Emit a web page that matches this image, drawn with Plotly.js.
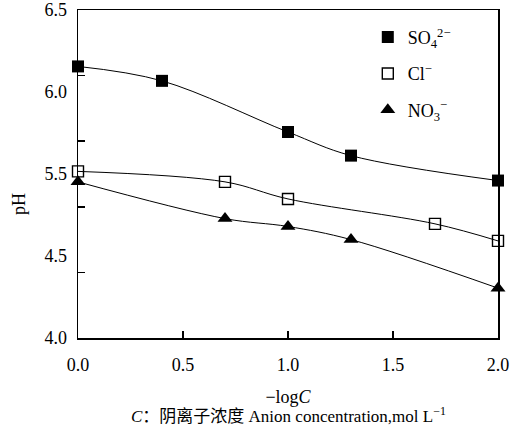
<!DOCTYPE html>
<html>
<head>
<meta charset="utf-8">
<script src="https://cdn.plot.ly/plotly-3.0.1.min.js"></script>
<style>
  html, body { margin: 0; padding: 0; background: #ffffff; }
  #chart { width: 521px; height: 436px; }
</style>
</head>
<body>
<div id="chart"></div>
<script>
// -logC values and measured pH for each anion
const xSO4 = [0, 0.4, 1.0, 1.3, 2.0];
const pHSO4 = [6.07, 5.96, 5.57, 5.39, 5.20];
const xCl = [0, 0.7, 1.0, 1.7, 2.0];
const pHCl = [5.27, 5.19, 5.06, 4.87, 4.74];
const xNO3 = [0, 0.7, 1.0, 1.3, 2.0];
const pHNO3 = [5.19, 4.91, 4.85, 4.75, 4.38];

// printed pH labels on the left edge (evenly spaced)
const yLabelText = ['4.0', '4.5', '5.5', '6.0', '6.5'];
const yLabelPos = yLabelText.map((_, i) => i);
const xTickVals = [0, 0.5, 1.0, 1.5, 2.0];
const xTickText = ['0.0', '0.5', '1.0', '1.5', '2.0'];

const serif = '"Liberation Serif", "Times New Roman", serif';
const serifCJK = '"Liberation Serif", "Noto Sans CJK SC", serif';

const series = [
  { name: 'SO<sub>4</sub><sup>2\u2212</sup>', x: xSO4, y: pHSO4,
    marker: { symbol: 'square', size: 12, color: '#000' } },
  { name: 'Cl<sup>\u2212</sup>', x: xCl, y: pHCl,
    marker: { symbol: 'square-open', size: 11, color: '#000', line: { width: 1.4, color: '#000' } } },
  { name: 'NO<sub>3</sub><sup>\u2212</sup>', x: xNO3, y: pHNO3,
    marker: { symbol: 'triangle-up', size: 13, color: '#000' } }
];

const traces = [];
series.forEach((s, i) => {
  // smoothed connecting curve
  traces.push({
    x: s.x, y: s.y, type: 'scatter', mode: 'lines',
    line: { shape: 'spline', smoothing: 1, color: '#000', width: 1 },
    showlegend: false, hoverinfo: 'skip', cliponaxis: false
  });
  // measured points
  traces.push({
    x: s.x, y: s.y, type: 'scatter', mode: 'markers', name: s.name,
    marker: s.marker, legendgroup: 'g' + i, cliponaxis: false
  });
});

// invisible trace that carries the printed label axis
traces.push({
  x: [null], y: [null], yaxis: 'y2', type: 'scatter', mode: 'markers',
  showlegend: false, hoverinfo: 'skip'
});

const layout = {
  width: 521, height: 436,
  margin: { l: 78, r: 23, t: 10, b: 98 },
  paper_bgcolor: '#ffffff', plot_bgcolor: '#ffffff',
  font: { family: serif, size: 18, color: '#000' },
  showlegend: true,
  legend: {
    x: 0.69, y: 0.973, xanchor: 'left', yanchor: 'top',
    bgcolor: 'rgba(0,0,0,0)', borderwidth: 0,
    font: { family: serif, size: 18, color: '#000' },
    traceorder: 'grouped', tracegroupgap: 10
  },
  xaxis: {
    range: [0, 2], tickvals: xTickVals, ticktext: xTickText,
    ticks: 'inside', ticklen: 7, tickwidth: 1.5, tickcolor: '#000',
    ticklabelstandoff: 10,
    showline: true, linecolor: '#000', linewidth: 1.5, mirror: true,
    showgrid: false, zeroline: false,
    tickfont: { family: serif, size: 18, color: '#000' },
    title: { text: '\u2212log<i>C</i>', font: { family: serif, size: 18, color: '#000' }, standoff: 16 }
  },
  yaxis: {
    range: [4.0, 6.5], dtick: 0.5, tick0: 4.0,
    ticks: 'inside', ticklen: 7, tickwidth: 1.5, tickcolor: '#000',
    showticklabels: false,
    showline: true, linecolor: '#000', linewidth: 1.5, mirror: true,
    showgrid: false, zeroline: false
  },
  yaxis2: {
    overlaying: 'y', side: 'left', range: [0, 4],
    tickvals: yLabelPos, ticktext: yLabelText,
    ticks: '', showline: false, showgrid: false, zeroline: false,
    ticklabelstandoff: 10,
    tickfont: { family: serif, size: 18, color: '#000' }
  },
  annotations: [
    {
      xref: 'paper', yref: 'paper', x: -0.1405, y: 0.4085, xanchor: 'center', yanchor: 'middle',
      showarrow: false, textangle: -90, text: 'pH',
      font: { family: serif, size: 18, color: '#000' }
    },
    {
      xref: 'paper', yref: 'paper', x: 0.5, y: -0.234, xanchor: 'center', yanchor: 'middle',
      showarrow: false,
      text: '<i>C</i>\uFF1A\u9634\u79BB\u5B50\u6D53\u5EA6 Anion concentration,mol L<sup>\u22121</sup>',
      font: { family: serifCJK, size: 17, color: '#000' }
    }
  ]
};

Plotly.newPlot('chart', traces, layout, { displayModeBar: false, staticPlot: true });
</script>
</body>
</html>
